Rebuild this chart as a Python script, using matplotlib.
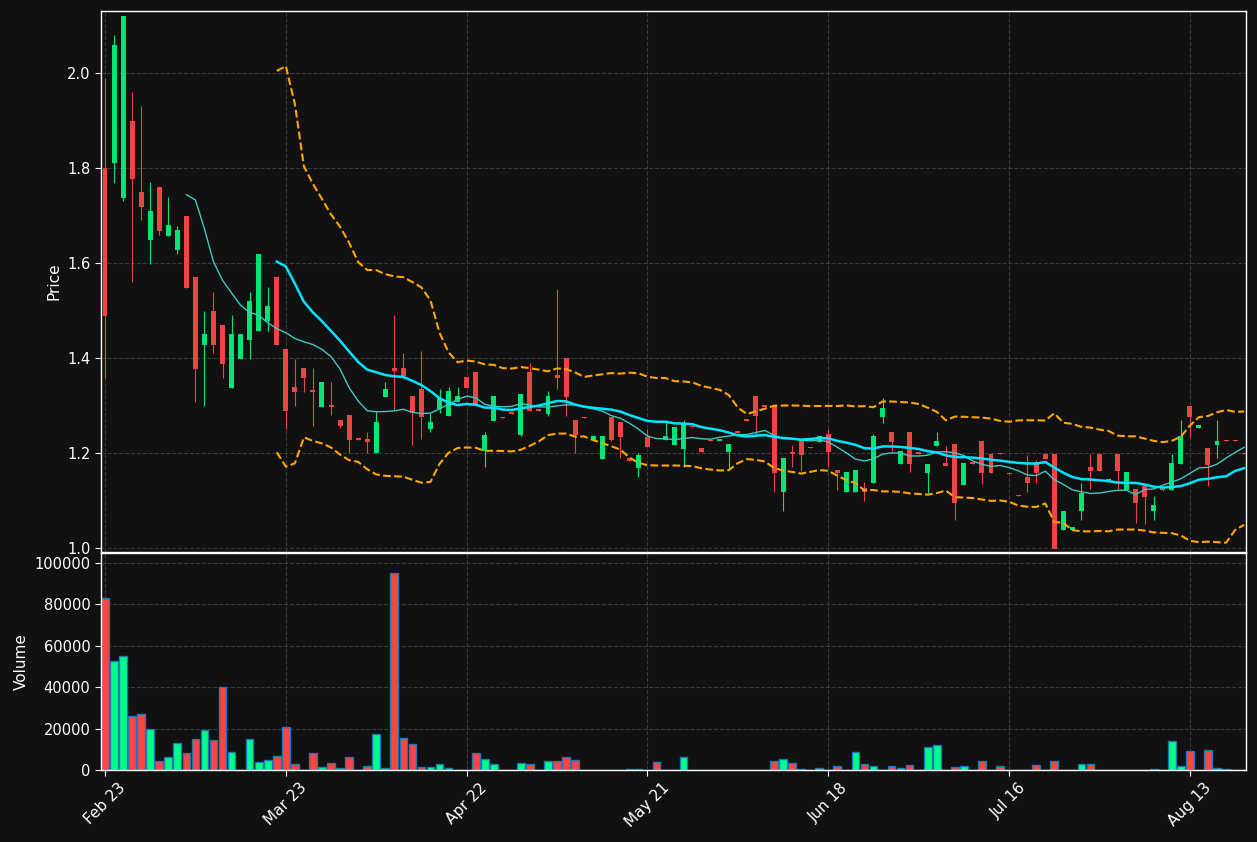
import numpy as np
import pandas as pd
import matplotlib
matplotlib.use('Agg')
import matplotlib.pyplot as plt
from matplotlib.ticker import FuncFormatter

# daily OHLCV (127 sessions, Feb 23 .. Aug 20)
opens = [1.800, 1.810, 1.738, 1.899, 1.750, 1.649, 1.761, 1.657, 1.628, 1.699,
         1.571, 1.428, 1.499, 1.470, 1.337, 1.399, 1.439, 1.457, 1.479, 1.571,
         1.419, 1.339, 1.379, 1.331, 1.298, 1.300, 1.269, 1.280, 1.230, 1.230,
         1.200, 1.319, 1.379, 1.379, 1.320, 1.335, 1.250, 1.293, 1.279, 1.308,
         1.361, 1.371, 1.205, 1.268, 1.276, 1.285, 1.239, 1.371, 1.291, 1.283,
         1.365, 1.400, 1.269, 1.276, 1.228, 1.188, 1.275, 1.265, 1.190, 1.168,
         1.234, 1.267, 1.228, 1.217, 1.209, 1.256, 1.211, 1.227, 1.226, 1.202,
         1.245, 1.270, 1.320, 1.300, 1.299, 1.119, 1.201, 1.228, 1.212, 1.224,
         1.240, 1.165, 1.119, 1.119, 1.126, 1.138, 1.275, 1.245, 1.178, 1.245,
         1.201, 1.158, 1.214, 1.179, 1.219, 1.133, 1.180, 1.226, 1.199, 1.200,
         1.157, 1.111, 1.150, 1.182, 1.199, 1.197, 1.039, 1.039, 1.079, 1.170,
         1.199, 1.143, 1.199, 1.123, 1.124, 1.130, 1.079, 1.125, 1.123, 1.178,
         1.300, 1.253, 1.211, 1.217, 1.227, 1.227, 1.200]
highs = [1.990, 2.080, 2.121, 1.960, 1.930, 1.770, 1.761, 1.739, 1.679, 1.699,
         1.571, 1.499, 1.540, 1.470, 1.490, 1.451, 1.539, 1.619, 1.549, 1.571,
         1.419, 1.399, 1.379, 1.379, 1.350, 1.350, 1.269, 1.280, 1.230, 1.244,
         1.288, 1.350, 1.490, 1.410, 1.320, 1.414, 1.284, 1.335, 1.339, 1.339,
         1.361, 1.371, 1.244, 1.320, 1.276, 1.285, 1.324, 1.389, 1.291, 1.330,
         1.545, 1.400, 1.269, 1.276, 1.236, 1.236, 1.275, 1.265, 1.190, 1.200,
         1.250, 1.267, 1.269, 1.255, 1.269, 1.256, 1.211, 1.227, 1.226, 1.219,
         1.245, 1.270, 1.320, 1.300, 1.299, 1.189, 1.218, 1.228, 1.212, 1.236,
         1.251, 1.165, 1.160, 1.165, 1.139, 1.240, 1.316, 1.245, 1.204, 1.245,
         1.201, 1.176, 1.244, 1.214, 1.219, 1.179, 1.180, 1.226, 1.199, 1.200,
         1.157, 1.111, 1.196, 1.185, 1.199, 1.197, 1.079, 1.044, 1.138, 1.199,
         1.199, 1.143, 1.199, 1.160, 1.124, 1.130, 1.110, 1.125, 1.199, 1.269,
         1.300, 1.259, 1.211, 1.269, 1.227, 1.227, 1.200]
lows = [1.359, 1.769, 1.731, 1.560, 1.690, 1.599, 1.659, 1.657, 1.619, 1.548,
        1.308, 1.299, 1.410, 1.359, 1.337, 1.399, 1.399, 1.457, 1.458, 1.428,
        1.250, 1.299, 1.329, 1.258, 1.298, 1.280, 1.252, 1.200, 1.228, 1.200,
        1.200, 1.319, 1.291, 1.355, 1.218, 1.229, 1.244, 1.284, 1.279, 1.308,
        1.337, 1.299, 1.171, 1.268, 1.274, 1.283, 1.235, 1.289, 1.289, 1.279,
        1.335, 1.279, 1.200, 1.274, 1.228, 1.188, 1.226, 1.189, 1.184, 1.149,
        1.213, 1.265, 1.228, 1.217, 1.171, 1.254, 1.202, 1.225, 1.226, 1.167,
        1.243, 1.268, 1.237, 1.298, 1.119, 1.079, 1.170, 1.163, 1.210, 1.224,
        1.171, 1.123, 1.119, 1.119, 1.098, 1.138, 1.264, 1.204, 1.178, 1.160,
        1.199, 1.116, 1.214, 1.173, 1.058, 1.133, 1.178, 1.134, 1.158, 1.198,
        1.155, 1.109, 1.119, 1.138, 1.188, 0.999, 1.039, 1.039, 1.058, 1.124,
        1.163, 1.143, 1.124, 1.123, 1.053, 1.050, 1.058, 1.121, 1.123, 1.178,
        1.234, 1.253, 1.130, 1.189, 1.225, 1.225, 1.198]
closes = [1.489, 2.059, 2.121, 1.778, 1.719, 1.710, 1.668, 1.680, 1.670, 1.548,
          1.377, 1.451, 1.428, 1.388, 1.451, 1.451, 1.520, 1.619, 1.510, 1.428,
          1.289, 1.329, 1.359, 1.329, 1.350, 1.298, 1.258, 1.228, 1.228, 1.224,
          1.266, 1.335, 1.373, 1.362, 1.284, 1.275, 1.266, 1.317, 1.330, 1.320,
          1.337, 1.299, 1.237, 1.320, 1.274, 1.283, 1.324, 1.289, 1.289, 1.320,
          1.359, 1.319, 1.239, 1.274, 1.236, 1.236, 1.228, 1.234, 1.184, 1.196,
          1.213, 1.265, 1.236, 1.255, 1.262, 1.254, 1.202, 1.225, 1.226, 1.219,
          1.243, 1.268, 1.279, 1.298, 1.158, 1.189, 1.199, 1.195, 1.210, 1.236,
          1.202, 1.158, 1.160, 1.165, 1.119, 1.236, 1.295, 1.224, 1.204, 1.178,
          1.199, 1.176, 1.226, 1.173, 1.094, 1.179, 1.178, 1.158, 1.158, 1.198,
          1.155, 1.109, 1.138, 1.158, 1.188, 0.999, 1.079, 1.044, 1.116, 1.163,
          1.163, 1.143, 1.163, 1.160, 1.094, 1.108, 1.091, 1.123, 1.179, 1.236,
          1.275, 1.259, 1.174, 1.226, 1.225, 1.225, 1.198]
volumes = [82900, 52600, 54800, 26000, 26900, 20000, 4200, 6450, 12900, 8060,
           14800, 19200, 14350, 40000, 8550, 0, 14800, 3700, 4700, 6600,
           20650, 2750, 0, 8060, 1300, 3200, 800, 6130, 0, 1770,
           17260, 800, 95160, 15300, 12400, 1600, 1600, 2740, 800, 0,
           0, 8060, 5160, 2740, 0, 0, 3200, 2740, 0, 4200,
           4200, 6130, 4680, 0, 0, 0, 0, 0, 300, 300,
           0, 3700, 0, 0, 6130, 0, 0, 0, 0, 0,
           0, 0, 0, 0, 4200, 5160, 3200, 300, 0, 800,
           0, 1770, 0, 8550, 2740, 1770, 0, 1770, 800, 2260,
           0, 10970, 11940, 0, 1290, 1770, 0, 4200, 0, 1770,
           0, 0, 0, 2260, 0, 4200, 0, 0, 2740, 2740,
           0, 0, 0, 0, 0, 0, 300, 0, 13870, 1770,
           9030, 0, 9520, 800, 300, 0, 0]
tick_labels = ['Feb 23', 'Mar 23', 'Apr 22', 'May 21', 'Jun 18', 'Jul 16', 'Aug 13']

#---

bg = '#111111'
up_col, down_col = '#00e676', '#ef4444'
vol_up, vol_down = '#00ff88', '#ff4444'

o = np.array(opens); h = np.array(highs); l = np.array(lows); c = np.array(closes)
x = np.arange(len(c))
up = c >= o

close_s = pd.Series(c)
sma10 = close_s.rolling(10).mean()
sma20 = close_s.rolling(20).mean()
std20 = close_s.rolling(20).std(ddof=0)
bb_up = sma20 + 2 * std20
bb_lo = sma20 - 2 * std20

fig = plt.figure(figsize=(12.57, 8.42), dpi=100, facecolor=bg)
ax1 = fig.add_axes([0.0803, 0.3444, 0.9109, 0.6425])
ax2 = fig.add_axes([0.0803, 0.0855, 0.9109, 0.2577], sharex=ax1)

for ax in (ax1, ax2):
    ax.set_facecolor(bg)
    ax.grid(True, color='#3a3a3a', linestyle='--', linewidth=0.8)
    ax.set_axisbelow(True)
    for sp in ax.spines.values():
        sp.set_color('white')
        sp.set_linewidth(1.0)
    ax.tick_params(colors='white', labelsize=10.5, length=4)

# candles
cols = np.where(up, up_col, down_col)
ax1.vlines(x, l, h, colors=cols, linewidth=0.8, zorder=2)
body = np.maximum(np.abs(c - o), 0.003)
ax1.bar(x, body, bottom=np.minimum(o, c), width=0.55, color=cols, linewidth=0, zorder=2)

ax1.plot(x, sma10, color='#40c8c0', linewidth=1.0, zorder=3)
ax1.plot(x, sma20, color='#00e5ff', linewidth=1.8, zorder=3)
ax1.plot(x, bb_up, color='#ffa500', linestyle='--', linewidth=1.5, zorder=3)
ax1.plot(x, bb_lo, color='#ffa500', linestyle='--', linewidth=1.5, zorder=3)

ax1.set_ylim(0.9916, 2.131)
ax1.set_yticks([1.0, 1.2, 1.4, 1.6, 1.8, 2.0])
ax1.yaxis.set_major_formatter(FuncFormatter(lambda v, p: '%.1f' % v))
ax1.set_ylabel('Price', color='white', fontsize=11)
plt.setp(ax1.get_xticklabels(), visible=False)

# volume
vcols = np.where(up, vol_up, vol_down)
ax2.bar(x, volumes, width=0.85, color=vcols, edgecolor='#1f77b4', linewidth=1.0)
ax2.set_ylim(0, 104600)
ax2.set_yticks(range(0, 100001, 20000))
ax2.yaxis.set_major_formatter(FuncFormatter(lambda v, p: '%d' % v))
ax2.set_ylabel('Volume', color='white', fontsize=11)

ax2.set_xlim(-0.45, 126.2)
ax2.set_xticks(range(0, len(c), 20))
ax2.set_xticklabels(tick_labels, rotation=45, fontsize=11)

plt.savefig('out.png', dpi=100, facecolor=bg)
plt.close()
